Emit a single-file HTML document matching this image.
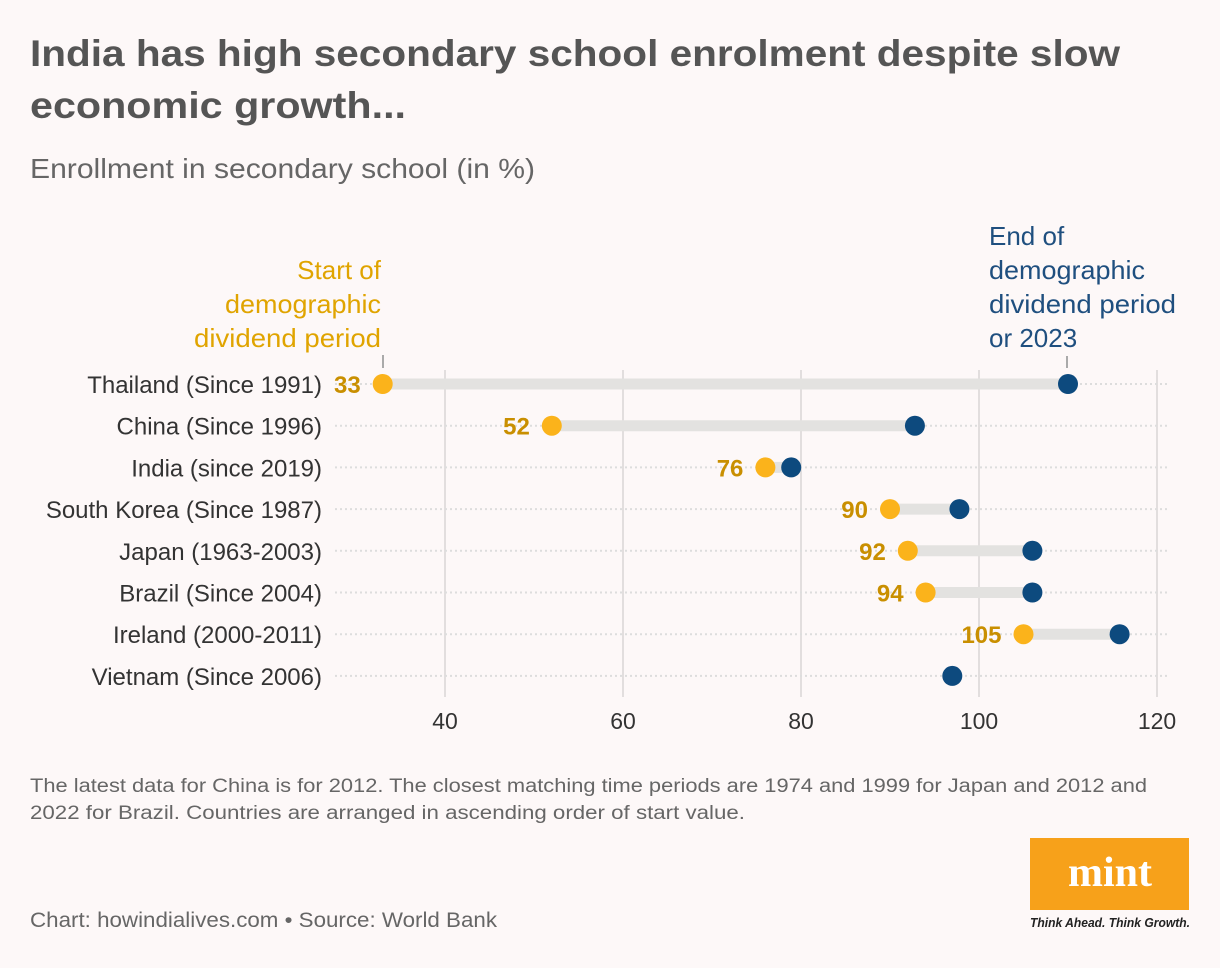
<!DOCTYPE html>
<html><head><meta charset="utf-8"><style>
body{margin:0;background:#fdf8f8;font-family:"Liberation Sans",sans-serif;}
.wrap{position:relative;width:1220px;height:968px;overflow:hidden;}
</style></head><body>
<div class="wrap">
<svg width="1220" height="968" style="position:absolute;left:0;top:0" id="svg">
<text x="30" y="66" font-size="37" font-weight="bold" fill="#555" textLength="1090" lengthAdjust="spacingAndGlyphs">India has high secondary school enrolment despite slow</text>
<text x="30" y="118" font-size="37" font-weight="bold" fill="#555" textLength="376" lengthAdjust="spacingAndGlyphs">economic growth...</text>
<text x="30" y="178" font-size="28" fill="#666" textLength="505" lengthAdjust="spacingAndGlyphs">Enrollment in secondary school (in %)</text>
<g font-size="26" fill="#e0a400" text-anchor="end">
<text x="381" y="279">Start of</text><text x="381" y="313" textLength="156" lengthAdjust="spacingAndGlyphs">demographic</text><text x="381" y="347" textLength="187" lengthAdjust="spacingAndGlyphs">dividend period</text></g>
<line x1="383" y1="355" x2="383" y2="368" stroke="#aaa" stroke-width="2"/>
<g font-size="26" fill="#1f4f7f">
<text x="989" y="245">End of</text><text x="989" y="279" textLength="156" lengthAdjust="spacingAndGlyphs">demographic</text><text x="989" y="313" textLength="187" lengthAdjust="spacingAndGlyphs">dividend period</text><text x="989" y="347">or 2023</text></g>
<line x1="1067" y1="356" x2="1067" y2="368" stroke="#aaa" stroke-width="2"/>
<g id="grid"></g><g id="rows"></g>
<text x="30" y="792" font-size="19" fill="#666" textLength="1117" lengthAdjust="spacingAndGlyphs">The latest data for China is for 2012. The closest matching time periods are 1974 and 1999 for Japan and 2012 and</text>
<text x="30" y="819" font-size="19" fill="#666" textLength="715" lengthAdjust="spacingAndGlyphs">2022 for Brazil. Countries are arranged in ascending order of start value.</text>
<text x="30" y="927" font-size="21" fill="#666" textLength="467" lengthAdjust="spacingAndGlyphs">Chart: howindialives.com • Source: World Bank</text>
<rect x="1030" y="838" width="159" height="72" fill="#f7a11a"/>
<text x="1110" y="886" font-size="42" font-weight="bold" font-family="Liberation Serif,serif" fill="#fff" text-anchor="middle">mint</text>
<text x="1110" y="927" font-size="12.5" font-weight="bold" font-style="italic" fill="#222" text-anchor="middle" textLength="160" lengthAdjust="spacingAndGlyphs">Think Ahead. Think Growth.</text>
</svg>
<script>
const countries=["Thailand (Since 1991)","China (Since 1996)","India (since 2019)","South Korea (Since 1987)","Japan (1963-2003)","Brazil (Since 2004)","Ireland (2000-2011)","Vietnam (Since 2006)"];
const startVals=[33,52,76,90,92,94,105,null];
const endVals=[110,92.8,78.9,97.8,106,106,115.8,97];
const ticks=[40,60,80,100,120];
const NS="http://www.w3.org/2000/svg";
const x=v=>445+(v-40)*8.9;
const y=i=>384+i*41.7;
function mk(tag,a,p){const e=document.createElementNS(NS,tag);for(const k in a)e.setAttribute(k,a[k]);p.appendChild(e);return e;}
const grid=document.getElementById('grid'),rows=document.getElementById('rows');
ticks.forEach(t=>{
 const l=mk('line',{x1:x(t),x2:x(t),y1:370,y2:697,stroke:'#e2dede','stroke-width':2},grid);
 
 
 const tx=mk('text',{x:x(t),y:729,'font-size':23,fill:'#333','text-anchor':'middle'},grid);
 tx.textContent=t;
 
 
});
countries.forEach((c,i)=>{
 const g=mk('g',{},rows);
 
 
 mk('line',{x1:335,x2:1168,y1:y(i),y2:y(i),stroke:'#ddd','stroke-width':2,'stroke-dasharray':'2 3'},g);
 const lb=mk('text',{x:322,y:y(i)+9,'font-size':24,fill:'#333','text-anchor':'end'},g);
 lb.textContent=c;
 
 
 const s=startVals[i],e=endVals[i];
 if(s!=null){
  const b=mk('line',{x1:x(s),x2:x(e),y1:y(i),y2:y(i),stroke:'#e3e2e0','stroke-width':11},g);
  
  
 }
 const ed=mk('circle',{cx:x(e),cy:y(i),r:10,fill:'#0d4a7e'},g);
 
 
 if(s!=null){
  const sd=mk('circle',{cx:x(s),cy:y(i),r:10,fill:'#fbb31b'},g);
  
  
  const v=mk('text',{x:x(s)-22,y:y(i)+9,'font-size':24,'font-weight':'bold',fill:'#c98f00','text-anchor':'end'},g);
  v.textContent=s;
  
  
 }
});
</script>
</div></body></html>
